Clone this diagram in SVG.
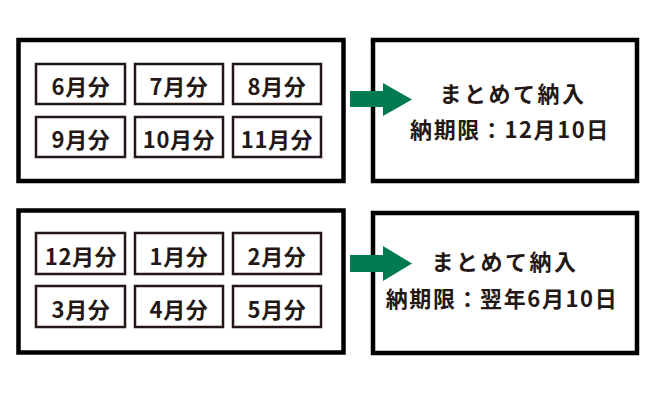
<svg xmlns="http://www.w3.org/2000/svg" width="650" height="400" viewBox="0 0 650 400">
<style>
.outer{fill:#fff;stroke:#000;stroke-width:4.5}
.inner{fill:#fff;stroke:#231815;stroke-width:2.5}
.m{font-family:"Noto Sans CJK JP","Noto Sans",sans-serif;font-weight:bold;font-size:22px;fill:#231815;text-anchor:middle;letter-spacing:0.6px}
.t{font-family:"Noto Sans CJK JP","Noto Sans",sans-serif;font-weight:bold;font-size:22px;fill:#231815;text-anchor:middle;letter-spacing:2.5px}
.t2{letter-spacing:1.6px}
.arr{fill:#007b50}
</style>
<rect width="650" height="400" fill="#fff"/>
<g id="group1">
<rect class="outer" x="18.5" y="40" width="325" height="141"/>
<g id="m6"><rect class="inner" x="36" y="64" width="89" height="40"/><text class="m" x="81" y="95">6月分</text></g>
<g id="m7"><rect class="inner" x="135" y="64" width="88" height="40"/><text class="m" x="179" y="95">7月分</text></g>
<g id="m8"><rect class="inner" x="233" y="64" width="88" height="40"/><text class="m" x="277" y="95">8月分</text></g>
<g id="m9"><rect class="inner" x="36" y="117" width="89" height="40"/><text class="m" x="81" y="148">9月分</text></g>
<g id="m10"><rect class="inner" x="135" y="117" width="88" height="40"/><text class="m" x="179" y="148">10月分</text></g>
<g id="m11"><rect class="inner" x="233" y="117" width="88" height="40"/><text class="m" x="277" y="148">11月分</text></g>
</g>
<g id="result1">
<rect class="outer" x="373" y="40" width="264" height="141"/>
<text class="t" x="513" y="102">まとめて納入</text>
<text class="t t2" x="510" y="138">納期限：12月10日</text>
</g>
<g id="group2">
<rect class="outer" x="18.5" y="210.5" width="325" height="142"/>
<g id="m12"><rect class="inner" x="36" y="233" width="89" height="41"/><text class="m" x="81" y="265">12月分</text></g>
<g id="m1"><rect class="inner" x="135" y="233" width="88" height="41"/><text class="m" x="179" y="265">1月分</text></g>
<g id="m2"><rect class="inner" x="233" y="233" width="88" height="41"/><text class="m" x="277" y="265">2月分</text></g>
<g id="m3"><rect class="inner" x="36" y="286" width="89" height="41"/><text class="m" x="81" y="318">3月分</text></g>
<g id="m4"><rect class="inner" x="135" y="286" width="88" height="41"/><text class="m" x="179" y="318">4月分</text></g>
<g id="m5"><rect class="inner" x="233" y="286" width="88" height="41"/><text class="m" x="277" y="318">5月分</text></g>
</g>
<g id="result2">
<rect class="outer" x="373" y="213" width="264" height="140"/>
<text class="t" x="505" y="270">まとめて納入</text>
<text class="t t2" x="502" y="307">納期限：翌年6月10日</text>
</g>
<g id="connectors">
<polygon class="arr" points="350,91 383,91 383,83 412,99.5 383,116 383,107 350,107"/>
<polygon class="arr" points="350,255 383,255 383,246 412,263.5 383,281 383,272 350,272"/>
</g>
</svg>
